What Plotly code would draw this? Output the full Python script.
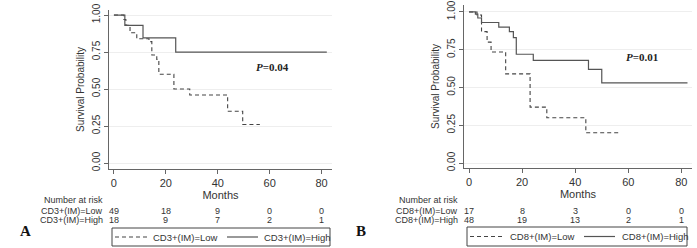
import plotly.graph_objects as go

# ---- data ----
a_low_t = [0, 3.8, 4.6, 6.2, 8.8, 13.5, 14.6, 16.5, 17.3, 23.1, 29.2, 43.8, 49.6, 56.2]
a_low_s = [1.0, 0.97, 0.93, 0.88, 0.84, 0.82, 0.73, 0.70, 0.60, 0.50, 0.46, 0.35, 0.26, 0.26]
a_high_t = [0, 4.2, 11.2, 23.8, 82]
a_high_s = [1.0, 0.93, 0.845, 0.75, 0.75]

b_low_t = [0, 3.0, 4.7, 6.8, 8.3, 13.8, 23.0, 29.3, 44.0, 57.0]
b_low_s = [1.0, 0.98, 0.87, 0.80, 0.735, 0.59, 0.37, 0.30, 0.20, 0.20]
b_high_t = [0, 2.4, 3.3, 4.7, 11.2, 15.2, 16.7, 17.8, 24.2, 45.0, 50.0, 82.3]
b_high_s = [1.0, 0.985, 0.96, 0.93, 0.90, 0.87, 0.83, 0.72, 0.68, 0.62, 0.53, 0.53]

risk_times = [0, 20, 40, 60, 80]
a_names = ["CD3+(IM)=Low", "CD3+(IM)=High"]
b_names = ["CD8+(IM)=Low", "CD8+(IM)=High"]
a_risk_low = [49, 18, 9, 0, 0]
a_risk_high = [18, 9, 7, 2, 1]
b_risk_low = [17, 8, 3, 0, 0]
b_risk_high = [48, 19, 13, 2, 1]
p_texts = ["0.04", "0.01"]
panel_labels = ["A", "B"]

W, H = 697, 248
SANS = "Arial, Liberation Sans, sans-serif"
SERIF = "Times New Roman, Liberation Serif, serif"
TXT = "#333333"
LOW_LINE = dict(color="#444444", width=1.1, dash="4px,3px")
HIGH_LINE = dict(color="#555555", width=1.2)

def px(x):
    return x / W

def py(y):
    return 1 - y / H

fig = go.Figure()

def add_curves(t_low, s_low, t_high, s_high, names, xa, ya):
    fig.add_trace(go.Scatter(x=t_low, y=s_low, mode="lines", line_shape="hv", line=LOW_LINE,
                             name=names[0], xaxis=xa, yaxis=ya, showlegend=False))
    fig.add_trace(go.Scatter(x=t_high, y=s_high, mode="lines", line_shape="hv", line=HIGH_LINE,
                             name=names[1], xaxis=xa, yaxis=ya, showlegend=False))

add_curves(a_low_t, a_low_s, a_high_t, a_high_s, a_names, "x", "y")
add_curves(b_low_t, b_low_s, b_high_t, b_high_s, b_names, "x2", "y2")

def xaxis_cfg(dom):
    return dict(domain=dom, range=[-1.9, 84], tickvals=risk_times, ticks="outside", ticklen=4,
                tickcolor="#666", showline=True, linecolor="#666", linewidth=1, showgrid=False,
                zeroline=False, tickfont=dict(family=SANS, size=11, color=TXT),
                title=dict(text="Months", font=dict(family=SANS, size=11, color=TXT), standoff=0))

def yaxis_cfg(dom, rng, anchor):
    return dict(domain=dom, range=rng, anchor=anchor, tickvals=[0, 0.25, 0.5, 0.75, 1.0],
                ticktext=["0.00", "0.25", "0.50", "0.75", "1.00"], tickangle=-90,
                ticks="outside", ticklen=4, tickcolor="#666", showline=True, linecolor="#666",
                linewidth=1, showgrid=True, gridcolor="#eeeeee", gridwidth=1, zeroline=False,
                tickfont=dict(family=SANS, size=10, color=TXT),
                title=dict(text="Survival Probability", font=dict(family=SANS, size=10, color=TXT), standoff=4))

fig.update_layout(
    width=W, height=H, margin=dict(l=0, r=0, t=0, b=0, autoexpand=False),
    paper_bgcolor="white", plot_bgcolor="white", showlegend=False,
    xaxis=dict(**xaxis_cfg([px(109), px(332)]), anchor="y"),
    yaxis=yaxis_cfg([py(169), py(10)], [-0.0405, 1.034], "x"),
    xaxis2=dict(**xaxis_cfg([px(464), px(692)]), anchor="y2"),
    yaxis2=yaxis_cfg([py(168), py(5)], [-0.033, 1.046], "x2"),
)

anns = []
shapes = []

def risk_table(xref, label_x, names, low, high):
    anns.append(dict(text="Number at risk", xref="paper", yref="paper", x=px(label_x), y=py(200),
                     xanchor="right", yanchor="middle", showarrow=False, borderpad=0,
                     font=dict(family=SANS, size=9, color=TXT)))
    for row, (nm, vals) in enumerate([(names[0], low), (names[1], high)]):
        yy = py(210.5 + 9 * row)
        anns.append(dict(text=nm, xref="paper", yref="paper", x=px(label_x), y=yy,
                         xanchor="right", yanchor="middle", showarrow=False, borderpad=0,
                         font=dict(family=SANS, size=9, color=TXT)))
        for t, v in zip(risk_times, vals):
            anns.append(dict(text=str(v), xref=xref, yref="paper", x=t, y=yy,
                             xanchor="center", yanchor="middle", showarrow=False, borderpad=0,
                             font=dict(family=SANS, size=9, color=TXT)))

risk_table("x", 104, a_names, a_risk_low, a_risk_high)
risk_table("x2", 459, b_names, b_risk_low, b_risk_high)

# legend boxes (drawn manually to match the Stata-style legend)
def legend_box(box, s1, t1, s2, t2, ymid, names):
    x0, x1, y0, y1 = box
    shapes.append(dict(type="rect", xref="paper", yref="paper", x0=px(x0), x1=px(x1),
                       y0=py(y1), y1=py(y0), line=dict(color="#444", width=1), fillcolor="white"))
    shapes.append(dict(type="line", xref="paper", yref="paper", x0=px(s1[0]), x1=px(s1[1]),
                       y0=py(ymid), y1=py(ymid), line=LOW_LINE))
    shapes.append(dict(type="line", xref="paper", yref="paper", x0=px(s2[0]), x1=px(s2[1]),
                       y0=py(ymid), y1=py(ymid), line=HIGH_LINE))
    for tx, nm in ((t1, names[0]), (t2, names[1])):
        anns.append(dict(text=nm, xref="paper", yref="paper", x=px(tx), y=py(ymid),
                         xanchor="left", yanchor="middle", showarrow=False, borderpad=0,
                         font=dict(family=SANS, size=9.5, color=TXT)))

legend_box((112, 330, 228, 246), (115, 147), 152, (227, 258), 263, 237, a_names)
legend_box((467, 687, 227, 246), (470, 504), 509, (584, 615), 621, 236.5, b_names)

anns.append(dict(text="<b><i>P</i>=" + p_texts[0] + "</b>", xref="x", yref="y", x=61, y=0.65,
                 showarrow=False, font=dict(family=SERIF, size=11, color="#222")))
anns.append(dict(text="<b><i>P</i>=" + p_texts[1] + "</b>", xref="x2", yref="y2", x=65, y=0.70,
                 showarrow=False, font=dict(family=SERIF, size=11, color="#222")))

anns.append(dict(text="<b>" + panel_labels[0] + "</b>", xref="paper", yref="paper", x=px(19), y=py(240),
                 showarrow=False, borderpad=0, font=dict(family=SERIF, size=15, color="#111")))
anns.append(dict(text="<b>" + panel_labels[1] + "</b>", xref="paper", yref="paper", x=px(361), y=py(240),
                 showarrow=False, borderpad=0, font=dict(family=SERIF, size=15, color="#111")))

fig.update_layout(annotations=anns, shapes=shapes)
fig.write_html("out.html", config={"displayModeBar": False},
               post_script="document.body.style.margin='0';document.body.style.overflow='hidden';")
